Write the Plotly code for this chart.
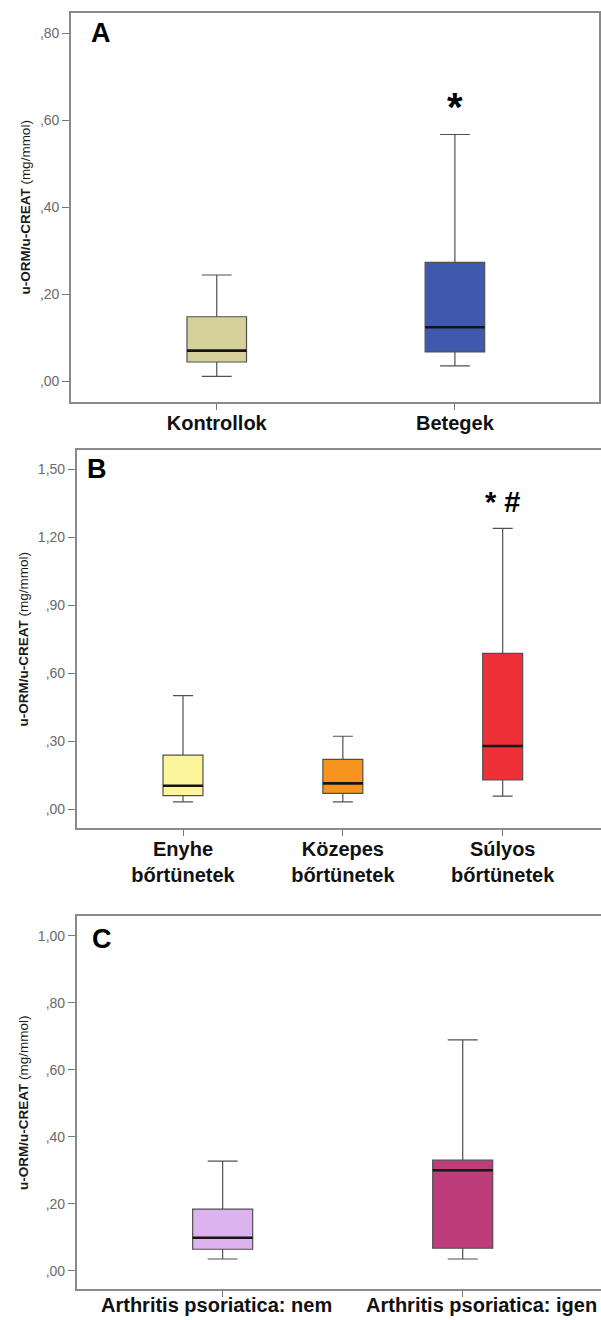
import plotly.graph_objects as go

W, H = 601, 1320

# ---------------- data ----------------
cats_A = ["Kontrollok", "Betegek"]
low_A = [0.012, 0.036]
q1_A = [0.045, 0.068]
med_A = [0.071, 0.125]
q3_A = [0.149, 0.274]
high_A = [0.245, 0.568]
colors_A = ["#D6D09A", "#4059AE"]

cats_B = ["Enyhe<br>bőrtünetek", "Közepes<br>bőrtünetek", "Súlyos<br>bőrtünetek"]
low_B = [0.032, 0.032, 0.057]
q1_B = [0.059, 0.069, 0.128]
med_B = [0.103, 0.113, 0.278]
q3_B = [0.238, 0.219, 0.687]
high_B = [0.500, 0.321, 1.238]
colors_B = ["#FCF59B", "#F7941D", "#EE3038"]

cats_C = ["Arthritis psoriatica: nem", "Arthritis psoriatica: igen"]
low_C = [0.035, 0.035]
q1_C = [0.064, 0.067]
med_C = [0.0985, 0.300]
q3_C = [0.184, 0.330]
high_C = [0.327, 0.689]
colors_C = ["#DDB3EF", "#BD3D7B"]

ytick_A = [0.0, 0.2, 0.4, 0.6, 0.8]
ytext_A = [",00", ",20", ",40", ",60", ",80"]
ytick_B = [0.0, 0.3, 0.6, 0.9, 1.2, 1.5]
ytext_B = [",00", ",30", ",60", ",90", "1,20", "1,50"]
ytick_C = [0.0, 0.2, 0.4, 0.6, 0.8, 1.0]
ytext_C = [",00", ",20", ",40", ",60", ",80", "1,00"]

y_title = "<b>u-ORM/u-CREAT</b> (mg/mmol)"
panel_letters = ["A", "B", "C"]
sig_A = "*"
sig_B = "* #"

# ---------------- figure ----------------
FONT = "Liberation Sans, Arial, sans-serif"
FRAME = "#8a8a8a"
fig = go.Figure()

panels = [
    dict(cats=cats_A, low=low_A, q1=q1_A, med=med_A, q3=q3_A, high=high_A, col=colors_A,
         xa="x", ya="y", xdom=[71 / W, 599 / W], ydom=[1 - 402 / H, 1 - 12.7 / H],
         xr=[-0.612, 1.605], yr=[-0.047, 0.848], yt=ytick_A, ytt=ytext_A, mirror_y=True),
    dict(cats=cats_B, low=low_B, q1=q1_B, med=med_B, q3=q3_B, high=high_B, col=colors_B,
         xa="x2", ya="y2", xdom=[76.7 / W, 1.0], ydom=[1 - 828.3 / H, 1 - 450 / H],
         xr=[-0.665, 2.615], yr=[-0.085, 1.584], yt=ytick_B, ytt=ytext_B, mirror_y=False),
    dict(cats=cats_C, low=low_C, q1=q1_C, med=med_C, q3=q3_C, high=high_C, col=colors_C,
         xa="x3", ya="y3", xdom=[76.7 / W, 1.0], ydom=[1 - 1289.3 / H, 1 - 916 / H],
         xr=[-0.608, 1.576], yr=[-0.0555, 1.059], yt=ytick_C, ytt=ytext_C, mirror_y=False),
]

BOXW = 0.25
shapes = []
for k, p in enumerate(panels):
    for i, c in enumerate(p["cats"]):
        fig.add_trace(go.Box(
            x=[c], q1=[p["q1"][i]], median=[p["med"][i]], q3=[p["q3"][i]],
            lowerfence=[p["low"][i]], upperfence=[p["high"][i]],
            fillcolor=p["col"][i], line=dict(color="#505050", width=1.2),
            width=BOXW, whiskerwidth=0.5, boxpoints=False, showlegend=False,
            xaxis=p["xa"], yaxis=p["ya"], hoverinfo="skip"))
        # thicker dark median line drawn from the median value
        shapes.append(dict(type="line", xref=p["xa"], yref=p["ya"],
                           x0=i - BOXW / 2, x1=i + BOXW / 2,
                           y0=p["med"][i], y1=p["med"][i],
                           line=dict(color="#151515", width=2.6)))

    sfx = "" if k == 0 else str(k + 1)
    fig.update_layout(**{
        "xaxis" + sfx: dict(
            domain=p["xdom"], anchor=p["ya"], type="category",
            categoryorder="array", categoryarray=p["cats"],
            range=p["xr"], showgrid=False, zeroline=False, automargin=False,
            showline=True, linecolor=FRAME, linewidth=1.6, mirror=True,
            ticks="outside", ticklen=6, tickcolor="#777", tickwidth=1,
            showticklabels=(k < 2), ticklabelstandoff=-4,
            tickfont=dict(family=FONT, size=20, color="#111", weight="bold"),
        ),
        "yaxis" + sfx: dict(
            domain=p["ydom"], anchor=p["xa"], range=p["yr"],
            tickvals=p["yt"], ticktext=p["ytt"], automargin=False,
            showgrid=False, zeroline=False,
            showline=True, linecolor=FRAME, linewidth=1.6, mirror=p["mirror_y"],
            ticks="outside", ticklen=7, tickcolor="#777", tickwidth=1,
            tickfont=dict(family=FONT, size=14, color="#6a6a6a"),
            title=dict(text=y_title, standoff=6,
                       font=dict(family=FONT, size=13.5, color="#1a1a1a")),
        ),
    })

annotations = []
letter_pos = [(101, 33), (97, 469), (102, 939)]
for L, (px, py) in zip(panel_letters, letter_pos):
    annotations.append(dict(text="<b>%s</b>" % L, xref="paper", yref="paper",
                            x=px / W, y=1 - py / H, xanchor="center", yanchor="middle",
                            showarrow=False, font=dict(family=FONT, size=27, color="#000")))

annotations.append(dict(text="<b>%s</b>" % sig_A, xref="x", yref="y",
                        x=cats_A[1], y=0.644, xanchor="center", yanchor="middle",
                        yshift=-6, showarrow=False,
                        font=dict(family=FONT, size=40, color="#000")))
annotations.append(dict(text="<b>%s</b>" % sig_B, xref="x2", yref="y2",
                        x=cats_B[2], y=1.356, xanchor="center", yanchor="middle",
                        yshift=0, showarrow=False,
                        font=dict(family=FONT, size=29, color="#000")))

# x labels of panel C (placed under their boxes)
c_shift = [-6, 19]
for i, c in enumerate(cats_C):
    annotations.append(dict(text="<b>%s</b>" % c, xref="x3", yref="paper",
                            x=c, y=1 - 1305 / H, xshift=c_shift[i],
                            xanchor="center", yanchor="middle", showarrow=False,
                            font=dict(family=FONT, size=20, color="#111")))

fig.update_layout(
    width=W, height=H, margin=dict(l=0, r=0, t=0, b=0, autoexpand=False),
    paper_bgcolor="white", plot_bgcolor="white",
    shapes=shapes, annotations=annotations, showlegend=False,
)

fig.write_html("out.html", config={"displayModeBar": False},
               post_script="document.body.style.margin='0';document.body.style.overflow='hidden';")
